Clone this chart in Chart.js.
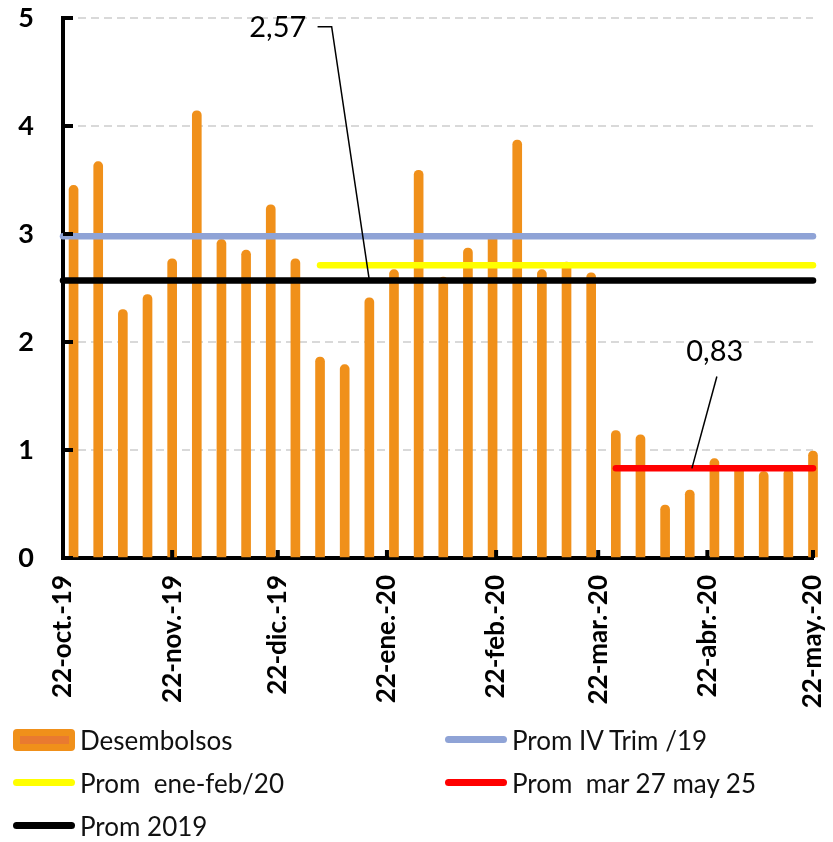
<!DOCTYPE html>
<html>
<head>
<meta charset="utf-8">
<script src="https://cdn.jsdelivr.net/npm/chart.js@4"></script>
<style>
    body { margin: 0; background: #fff; font-family: Lato, sans-serif; }
    #wrap { position: relative; width: 833px; height: 842px; }
    #box { position: absolute; left: 0; top: 0; width: 833px; height: 720px; }
    #legend { position: absolute; left: 13px; top: 718px; display: grid; grid-template-columns: 432px 388px; grid-auto-rows: 43px; }
    .item { display: flex; align-items: center; font-size: 26px; color: #111; white-space: pre; }
    .item span { margin-left: 5px; }
    .line { width: 62px; height: 7px; border-radius: 4px; }
    .barbox { width: 62px; height: 22px; border-radius: 4px; background: #F0901A; display: flex; align-items: center; justify-content: center; }
    .barbox div { width: 49px; height: 8px; background: #E97A30; }
</style>
</head>
<body>
<div id="wrap">
    <div id="box"><canvas id="chart"></canvas></div>
    <div id="legend"></div>
</div>
<script>
// Data
const startDate = "2019-10-22";
const endDate = "2020-05-22";

const weekDates = [
    "2019-10-25", "2019-11-01", "2019-11-08", "2019-11-15", "2019-11-22", "2019-11-29",
    "2019-12-06", "2019-12-13", "2019-12-20", "2019-12-27", "2020-01-03", "2020-01-10",
    "2020-01-17", "2020-01-24", "2020-01-31", "2020-02-07", "2020-02-14", "2020-02-21",
    "2020-02-28", "2020-03-06", "2020-03-13", "2020-03-20", "2020-03-27", "2020-04-03",
    "2020-04-10", "2020-04-17", "2020-04-24", "2020-05-01", "2020-05-08", "2020-05-15",
    "2020-05-22"
];
const desembolsos = [
    3.45, 3.67, 2.30, 2.44, 2.77, 4.14,
    2.95, 2.85, 3.27, 2.77, 1.86, 1.79,
    2.41, 2.67, 3.59, 2.60, 2.87, 3.00,
    3.87, 2.67, 2.74, 2.64, 1.18, 1.14,
    0.49, 0.63, 0.92, 0.84, 0.80, 0.82,
    0.99
];

const tickDates = ["2019-10-22", "2019-11-22", "2019-12-22", "2020-01-22", "2020-02-22", "2020-03-22", "2020-04-22", "2020-05-22"];
const tickLabels = ["22-oct.-19", "22-nov.-19", "22-dic.-19", "22-ene.-20", "22-feb.-20", "22-mar.-20", "22-abr.-20", "22-may.-20"];

// averages: [label, value, from, to]
const promIVTrim = ["Prom IV Trim /19", 2.98, "2019-10-22", "2020-05-22"];
const promEneFeb = ["Prom  ene-feb/20", 2.71, "2020-01-03", "2020-05-22"];
const promMarMay = ["Prom  mar 27 may 25", 0.83, "2020-03-27", "2020-05-22"];
const prom2019 = ["Prom 2019", 2.57, "2019-10-22", "2020-05-22"];

// Function
const day = (s) => Math.round((Date.parse(s) - Date.parse(startDate)) / 86400000);

const avgLine = (p, color, order) => ({
    type: "line",
    label: p[0],
    data: [{x: day(p[2]), y: p[1]}, {x: day(p[3]), y: p[1]}],
    borderColor: color,
    backgroundColor: color,
    borderWidth: 6.5,
    borderCapStyle: "round",
    pointRadius: 0,
    clip: false,
    order: order
});

// inside tick marks + callout labels
const extras = {
    id: "extras",
    afterDraw(chart) {
        const {ctx, chartArea, scales: {x, y}} = chart;
        ctx.save();
        ctx.strokeStyle = "#000";
        ctx.lineWidth = 4;
        for (let v = 0; v <= 5; v++) {
            let py = y.getPixelForValue(v);
            ctx.beginPath();
            ctx.moveTo(chartArea.left, py);
            ctx.lineTo(chartArea.left + 10, py);
            ctx.stroke();
        }
        tickDates.forEach(d => {
            let px = x.getPixelForValue(day(d));
            ctx.beginPath();
            ctx.moveTo(px, chartArea.bottom);
            ctx.lineTo(px, chartArea.bottom - 8);
            ctx.stroke();
        });

        const callouts = [
            {text: "2,57", at: [61, 4.91], path: [[72.3, 4.92], [76.3, 4.92], [day("2020-01-17"), prom2019[1]]]},
            {text: "0,83", at: [185.1, 1.91], path: [[185.7, 1.68], [178.6, promMarMay[1]]]}
        ];
        ctx.lineWidth = 1.5;
        ctx.fillStyle = "#000";
        ctx.font = "29px Lato";
        ctx.textAlign = "center";
        ctx.textBaseline = "middle";
        callouts.forEach(c => {
            ctx.fillText(c.text, x.getPixelForValue(c.at[0]), y.getPixelForValue(c.at[1]));
            ctx.beginPath();
            c.path.forEach((p, i) => {
                let px = x.getPixelForValue(p[0]);
                let py = y.getPixelForValue(p[1]);
                if (i === 0) ctx.moveTo(px, py); else ctx.lineTo(px, py);
            });
            ctx.stroke();
        });
        ctx.restore();
    }
};

// Chart
const chart = new Chart(document.querySelector("#chart"), {
    type: "bar",
    data: {
        datasets: [
            {
                type: "bar",
                label: "Desembolsos",
                data: weekDates.map((d, i) => ({x: day(d), y: desembolsos[i]})),
                backgroundColor: "#F0901A",
                barThickness: 9,
                borderRadius: {topLeft: 5, topRight: 5, bottomLeft: 0, bottomRight: 0},
                borderSkipped: false,
                clip: false,
                order: 10
            },
            avgLine(promIVTrim, "#8FA3D6", 4),
            avgLine(promEneFeb, "#FFFF00", 3),
            avgLine(promMarMay, "#FF0000", 2),
            avgLine(prom2019, "#000000", 1)
        ]
    },
    options: {
        responsive: true,
        maintainAspectRatio: false,
        animation: false,
        layout: {padding: {top: 18, right: 20, bottom: 0, left: 0}},
        plugins: {legend: {display: false}, tooltip: {enabled: false}},
        scales: {
            x: {
                type: "linear",
                offset: false,
                min: 0,
                max: day(endDate),
                grid: {display: false, drawTicks: false, offset: false},
                border: {display: true, color: "#000", width: 4},
                afterBuildTicks: (scale) => {
                    scale.ticks = tickDates.map(d => ({value: day(d)}));
                },
                afterFit: (scale) => {
                    scale.height = 162;
                    scale.paddingLeft = 0;
                    scale.paddingRight = 0;
                },
                ticks: {
                    autoSkip: false,
                    maxRotation: 90,
                    minRotation: 90,
                    padding: 17,
                    color: "#000",
                    font: {family: "Lato", size: 26, weight: "bold"},
                    callback: (v, i) => tickLabels[i]
                }
            },
            y: {
                min: 0,
                max: 5,
                grid: {color: "#D9D9D9", lineWidth: 2, drawTicks: false},
                border: {display: true, color: "#000", width: 4, dash: [8, 5]},
                afterFit: (scale) => {
                    scale.width = 63;
                    scale.paddingTop = 0;
                    scale.paddingBottom = 0;
                },
                ticks: {stepSize: 1, padding: 29, color: "#000", font: {family: "Lato", size: 27, weight: "bold"}}
            }
        }
    },
    plugins: [extras]
});

// Legend
const legendItems = [
    {label: "Desembolsos", bar: true},
    {label: promIVTrim[0], color: "#8FA3D6"},
    {label: promEneFeb[0], color: "#FFFF00"},
    {label: promMarMay[0], color: "#FF0000"},
    {label: prom2019[0], color: "#000000"}
];
let legendElement = document.querySelector("#legend");
legendItems.forEach(item => {
    let el = document.createElement("div");
    el.className = "item";
    let sw = document.createElement("div");
    if (item.bar) {
        sw.className = "barbox";
        sw.appendChild(document.createElement("div"));
    } else {
        sw.className = "line";
        sw.style.background = item.color;
    }
    let text = document.createElement("span");
    text.textContent = item.label;
    el.appendChild(sw);
    el.appendChild(text);
    legendElement.appendChild(el);
});
</script>
</body>
</html>
